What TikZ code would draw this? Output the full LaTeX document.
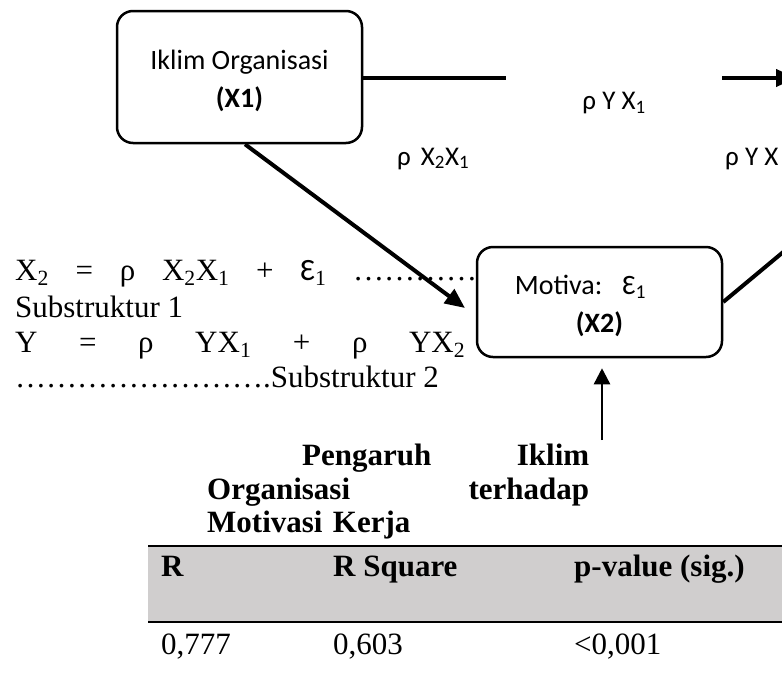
\documentclass[tikz,border=0pt]{standalone}
\usepackage{fontspec}
\setmainfont{Liberation Serif}
\newfontfamily\calibri{Carlito}
\usepackage{xcolor}
\usepackage{tikz}
\usetikzlibrary{arrows.meta}
\definecolor{headgray}{HTML}{D0CECE}

\begin{document}
\begin{tikzpicture}[
    x=1pt, y=-1pt,
    rbox/.style={rectangle, rounded corners=16pt, draw, line width=2.5pt, fill=white, minimum width=245pt, align=center, font=\calibri\fontsize{28}{38}\selectfont},
    rho/.style={anchor=base west, inner sep=0pt, font=\calibri\fontsize{27}{30}\selectfont},
    eqline/.style={anchor=base west, inner sep=0pt, font=\fontsize{31}{36}\selectfont},
    tabtext/.style={anchor=base west, inner sep=0pt, font=\fontsize{31}{36}\selectfont},
    tabhead/.style={tabtext, font=\bfseries\fontsize{31}{36}\selectfont},
    arrow/.style={-{Triangle[length=20pt,width=17pt]}, line width=4pt},
    thinarrow/.style={-{Triangle[length=16pt,width=16pt]}, line width=2.5pt}
]
    \clip (0,0) rectangle (782,678);

    % substructure equations
    \node[eqline] (eq1) at (15,280) {\hbox to 462pt{X\textsubscript{2}\hfill=\hfill ρ\hfill X\textsubscript{2}X\textsubscript{1}\hfill+\hfill {\calibri Ɛ}\textsubscript{1}\hfill …………}};
    \node[eqline] (sub1) at (15,317) {Substruktur 1};
    \node[eqline] (eq2) at (15,352) {\hbox to 450pt{Y\hfill=\hfill ρ\hfill YX\textsubscript{1}\hfill+\hfill ρ\hfill YX\textsubscript{2}}};
    \node[eqline] (sub2) at (15,387) {…………………….Substruktur 2};

    % path diagram
    \node[rbox, minimum height=132pt] (iklim) at (239.5,77) {\rule{0pt}{28pt}Iklim Organisasi\\\textbf{(X1)}};
    \node[rbox, minimum height=110pt] (motiva) at (599.5,302) {\rule{0pt}{28pt}Motiva:\hspace{20pt}Ɛ\textsubscript{1}\hspace*{38pt}\\\textbf{(X2)}};
    \coordinate (ybox) at (796,78);
    \coordinate (yline) at (800,238);
    \coordinate (x1tox2) at (465,308);
    \coordinate (capfoot) at (602,440);

    \draw[arrow] (iklim.east |- ybox) -- (ybox);
    \node[fill=white, minimum width=216pt, minimum height=66pt, font=\calibri\fontsize{27}{30}\selectfont] (pyx1) at (614,103) {ρ Y X\textsubscript{1}};
    \draw[arrow] ([xshift=5.5pt]iklim.south) -- (x1tox2);
    \draw[line width=4pt] (motiva.east) -- (yline);
    \draw[thinarrow, shorten >=10pt] (capfoot) -- (capfoot |- motiva.south);

    \node[rho] (px2x1) at (397,165) {ρ\hspace{10pt}X\textsubscript{2}X\textsubscript{1}};
    \node[rho] (pyx2) at (725,165) {ρ Y X};

    % caption
    \node[anchor=north west, inner sep=0pt, text width=382pt, align=left, font=\bfseries\fontsize{31}{33.5}\selectfont] (caption) at (207,444) {\hspace*{95pt}Pengaruh\hfill Iklim\\Organisasi\hfill terhadap\\Motivasi Kerja};

    % table
    \fill[headgray] (148,546) rectangle (782,622);
    \draw[line width=2.5pt] (148,546) -- (782,546);
    \draw[line width=2.5pt] (148,622) -- (782,622);
    \node[tabhead] (hr) at (161,576) {R};
    \node[tabhead] (hrsq) at (333,576) {R Square};
    \node[tabhead] (hp) at (574,576) {p-value (sig.)};
    \node[tabtext] (vr) at (161,654) {0,777};
    \node[tabtext] (vrsq) at (333,654) {0,603};
    \node[tabtext] (vp) at (574,654) {<0,001};
\end{tikzpicture}
\end{document}
